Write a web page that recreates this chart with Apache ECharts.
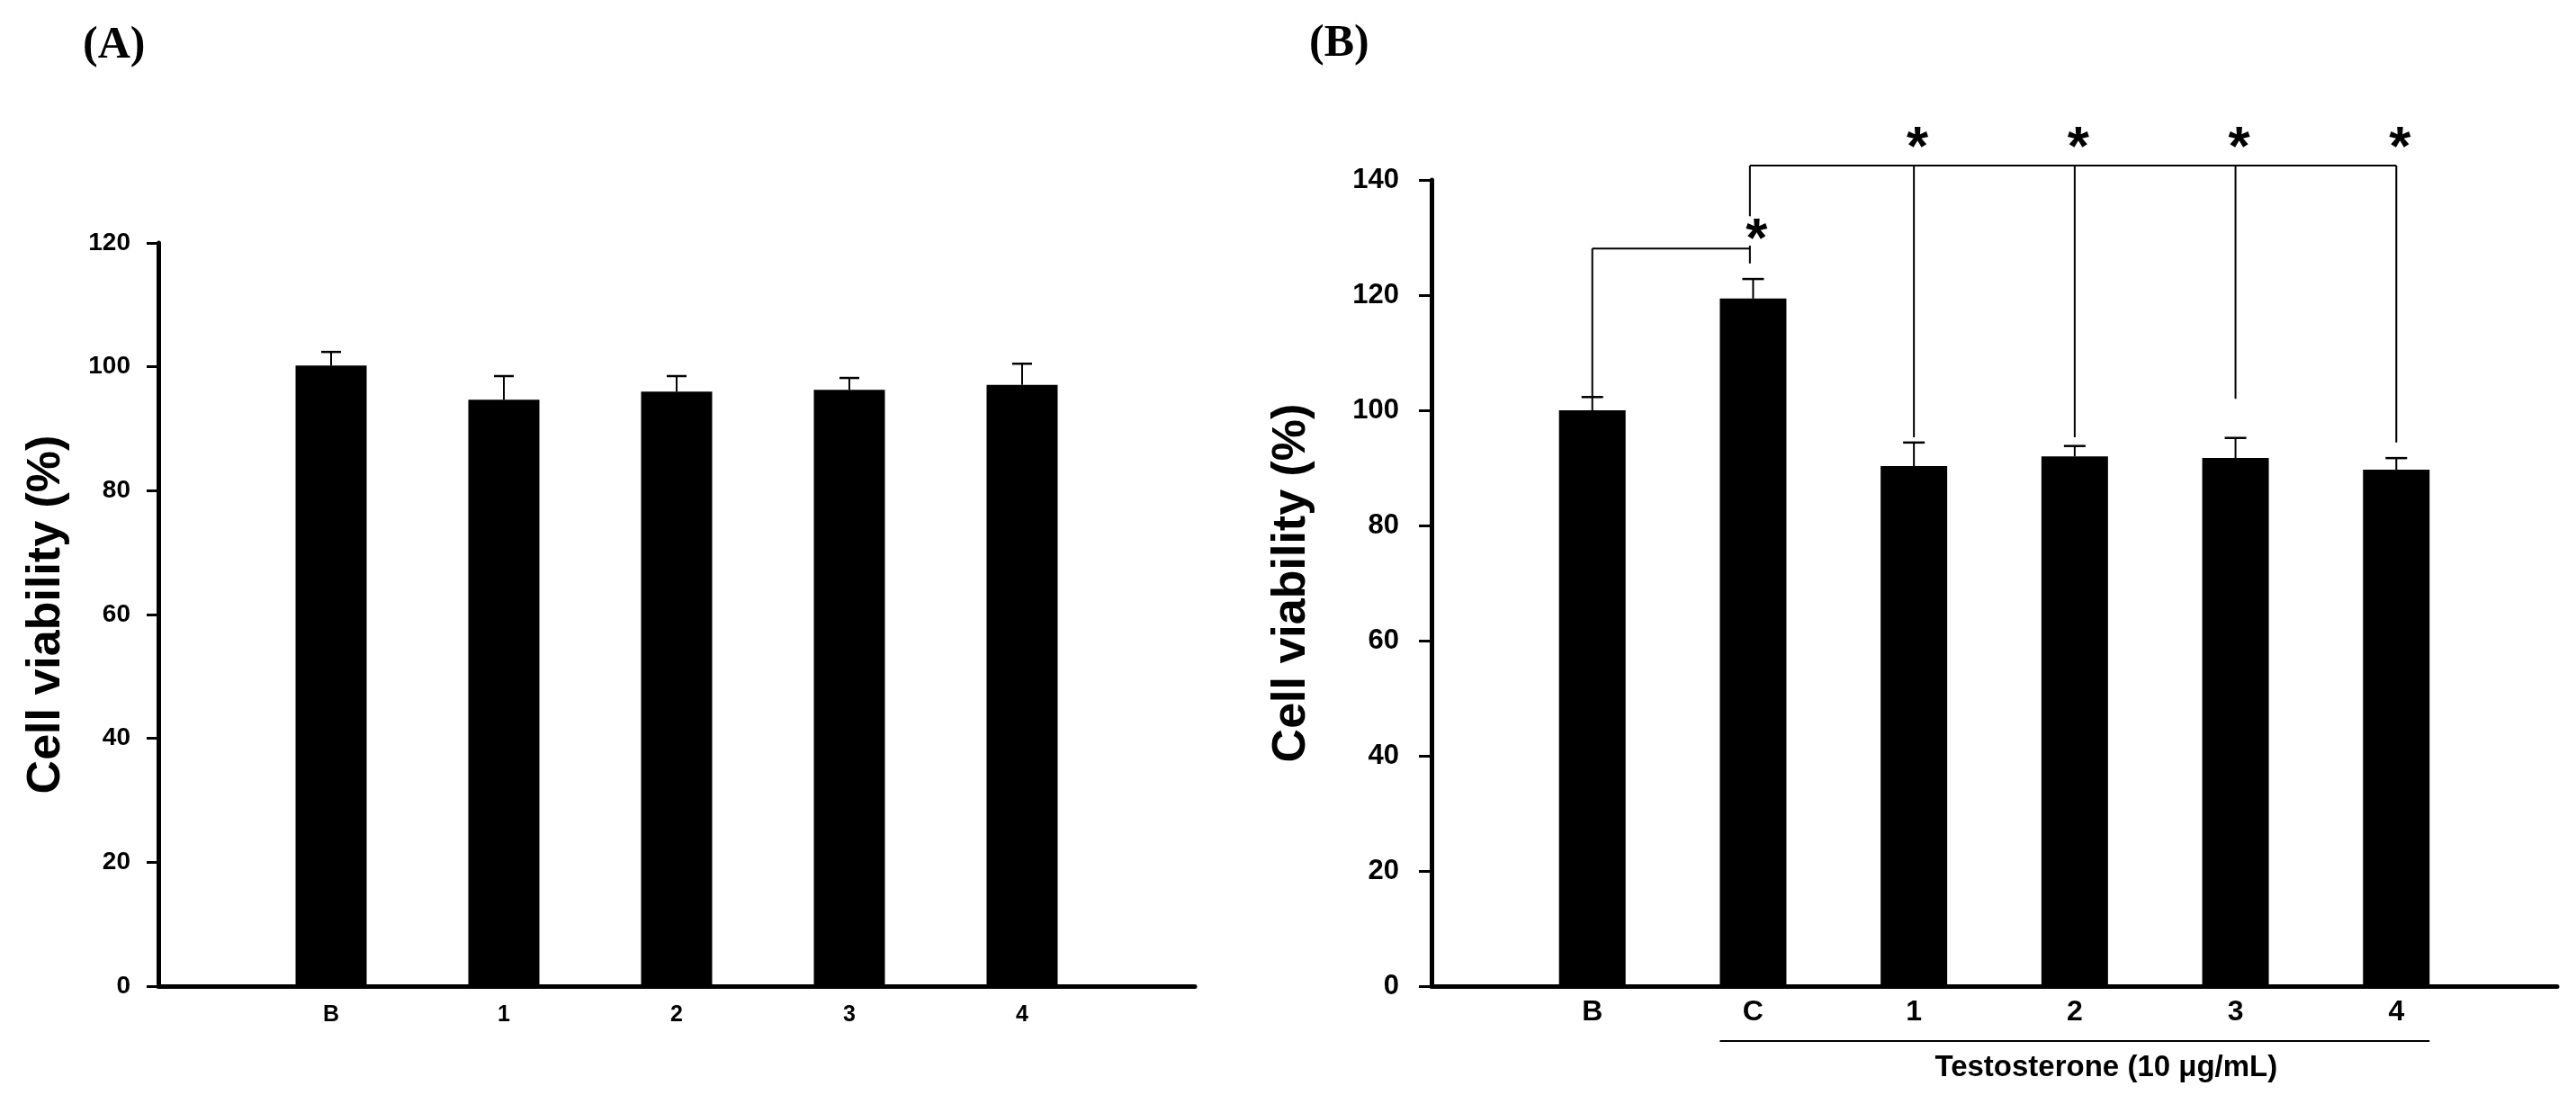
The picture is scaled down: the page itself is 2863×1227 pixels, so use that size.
<!DOCTYPE html>
<html>
<head>
<meta charset="utf-8">
<script src="https://cdn.jsdelivr.net/npm/echarts@6/dist/echarts.min.js"></script>
<style>
  html, body { margin: 0; padding: 0; background: #fff; }
  #main { width: 2863px; height: 1227px; }
</style>
</head>
<body>
<div id="main"></div>
<script>
// panel A
var catA = ['B', '1', '2', '3', '4'];
var meanA = [100.2, 94.7, 96.0, 96.3, 97.1];
var errA = [2.2, 3.8, 2.5, 1.9, 3.4];

// panel B
var catB = ['B', 'C', '1', '2', '3', '4'];
var meanB = [100.0, 119.4, 90.3, 92.0, 91.7, 89.7];
var errB = [2.3, 3.4, 4.1, 1.8, 3.5, 2.0];

// significance marks of panel B (values in % units)
var bcLevel = 128.1;       // bracket B - C
var bcRightEnd = 125.5;
var cStarLevel = 131.6;
var cDropEnd = 133.7;
var topLevel = 142.5;      // bracket C - 1..4
var topStarLevel = 147.5;
var dropEnds = [95.3, 95.3, 102.0, 94.4];
var groupName = 'Testosterone (10 μg/mL)';
var groupSpan = [2, 6];     // C .. 4

var SANS = '"Liberation Sans", Arial, sans-serif';
var SERIF = '"Liberation Serif", "Times New Roman", serif';

var myChart = echarts.init(document.getElementById('main'));

function errorBar(half) {
  return function (params, api) {
    var x = api.value(0), y = api.value(1), e = api.value(2);
    var p0 = api.coord([x, y]);
    var p1 = api.coord([x, y + e]);
    return {
      type: 'group',
      children: [
        { type: 'line', shape: { x1: p0[0], y1: p0[1], x2: p1[0], y2: p1[1] }, style: { stroke: '#000', lineWidth: 2 } },
        { type: 'line', shape: { x1: p1[0] - half, y1: p1[1], x2: p1[0] + half, y2: p1[1] }, style: { stroke: '#000', lineWidth: 2.5 } }
      ]
    };
  };
}

function seg(a, b) {
  return { type: 'line', shape: { x1: a[0], y1: a[1], x2: b[0], y2: b[1] }, style: { stroke: '#000', lineWidth: 2 } };
}
function star(p) {
  return {
    type: 'text',
    style: { text: '*', x: p[0] + 4, y: p[1] + 14, align: 'center', verticalAlign: 'middle',
             font: 'bold 62px ' + SANS, fill: '#000' }
  };
}

function brackets(params, api) {
  var kids = [];
  // B - C
  var bCap = meanB[0] + errB[0];
  kids.push(seg(api.coord([1, bCap]), api.coord([1, bcLevel])));
  kids.push(seg(api.coord([1, bcLevel]), api.coord([1.98, bcLevel])));
  kids.push(seg(api.coord([1.98, bcLevel + 0.5]), api.coord([1.98, bcRightEnd])));
  kids.push(star(api.coord([2, cStarLevel])));
  // C - treated groups
  kids.push(seg(api.coord([1.98, cDropEnd]), api.coord([1.98, topLevel])));
  kids.push(seg(api.coord([1.98, topLevel]), api.coord([6, topLevel])));
  for (var i = 0; i < dropEnds.length; i++) {
    var x = 3 + i;
    kids.push(seg(api.coord([x, topLevel]), api.coord([x, dropEnds[i]])));
    kids.push(star(api.coord([x, topStarLevel])));
  }
  return { type: 'group', children: kids };
}

function groupLabel(params, api) {
  var a = api.coord([api.value(0), 0]);
  var b = api.coord([api.value(1), 0]);
  var half = 37;
  return {
    type: 'group',
    children: [
      { type: 'line', shape: { x1: a[0] - half, y1: a[1] + 61, x2: b[0] + half, y2: b[1] + 61 },
        style: { stroke: '#000', lineWidth: 2 } },
      { type: 'text', style: { text: groupName, x: (a[0] + b[0]) / 2 + 35, y: a[1] + 91,
        align: 'center', verticalAlign: 'middle', font: 'bold 33px ' + SANS, fill: '#000' } }
    ]
  };
}

function xAxisCfg(idx, cats, max, margin, size) {
  return {
    gridIndex: idx, type: 'value', min: 0, max: max, interval: 1,
    axisLine: { show: true, onZero: true, lineStyle: { color: '#000', width: 5 } },
    axisTick: { show: false },
    splitLine: { show: false },
    axisLabel: {
      margin: margin, color: '#000', fontWeight: 'bold', fontSize: size, fontFamily: SANS,
      showMinLabel: true, showMaxLabel: true,
      formatter: function (v) { return cats[v - 1] || ''; }
    }
  };
}

function yAxisCfg(idx, max, size, tickLen, margin, gap) {
  return {
    gridIndex: idx, type: 'value', min: 0, max: max, interval: 20,
    name: 'Cell viability (%)', nameLocation: 'middle', nameRotate: 90, nameGap: gap,
    nameTextStyle: { color: '#000', fontWeight: 'bold', fontSize: 52, fontFamily: SANS },
    axisLine: { show: true, lineStyle: { color: '#000', width: 5 } },
    axisTick: { show: true, inside: false, length: tickLen, lineStyle: { color: '#000', width: 3 } },
    splitLine: { show: false },
    axisLabel: { margin: margin, color: '#000', fontWeight: 'bold', fontSize: size, fontFamily: SANS }
  };
}

var option = {
  backgroundColor: '#fff',
  animation: false,
  grid: [
    { left: 176, top: 270, width: 1152, height: 826, containLabel: false, outerBoundsMode: 'none' },
    { left: 1591, top: 200, width: 1251, height: 896, containLabel: false, outerBoundsMode: 'none' }
  ],
  xAxis: [
    xAxisCfg(0, catA, 6, 20, 25),
    xAxisCfg(1, catB, 7, 13, 32)
  ],
  yAxis: [
    yAxisCfg(0, 120, 28, 13, 31, 98),
    yAxisCfg(1, 140, 31, 14, 36, 129)
  ],
  graphic: [
    { type: 'text', left: 92, top: 26, style: { text: '(A)', font: 'bold 50px ' + SERIF, fill: '#000' } },
    { type: 'text', left: 1455, top: 24, style: { text: '(B)', font: 'bold 50px ' + SERIF, fill: '#000' } }
  ],
  series: [
    {
      type: 'bar', xAxisIndex: 0, yAxisIndex: 0, barWidth: 79,
      itemStyle: { color: '#000' },
      data: meanA.map(function (m, i) { return [i + 1, m]; })
    },
    {
      type: 'custom', xAxisIndex: 0, yAxisIndex: 0, z: 3, clip: false,
      renderItem: errorBar(11),
      data: meanA.map(function (m, i) { return [i + 1, m, errA[i]]; })
    },
    {
      type: 'bar', xAxisIndex: 1, yAxisIndex: 1, barWidth: 74,
      itemStyle: { color: '#000' },
      data: meanB.map(function (m, i) { return [i + 1, m]; })
    },
    {
      type: 'custom', xAxisIndex: 1, yAxisIndex: 1, z: 3, clip: false,
      renderItem: errorBar(12),
      data: meanB.map(function (m, i) { return [i + 1, m, errB[i]]; })
    },
    {
      type: 'custom', xAxisIndex: 1, yAxisIndex: 1, z: 4, clip: false,
      renderItem: brackets,
      data: [[1, 0]]
    },
    {
      type: 'custom', xAxisIndex: 1, yAxisIndex: 1, z: 4, clip: false,
      renderItem: groupLabel,
      data: [groupSpan]
    }
  ]
};

myChart.setOption(option);
</script>
</body>
</html>
